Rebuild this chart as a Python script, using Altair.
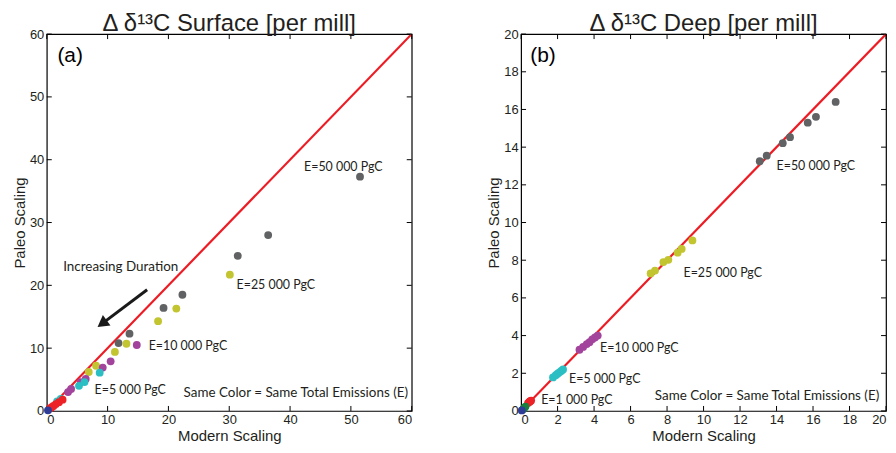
import altair as alt
import pandas as pd

# ---------------- Data: panel (a) surface ----------------
groups = ["50000", "25000", "10000", "5000", "1000", "500", "100"]
group_colors = ["#616264", "#c2c430", "#a3449c", "#2bbfc4", "#ec2227", "#17803e", "#2d3d96"]

surf_x = {
    "50000": [51.5, 36.4, 31.4, 22.3, 19.2, 13.6, 11.8],
    "25000": [30.1, 21.3, 18.3, 13.1, 11.2, 8.1, 6.9],
    "10000": [14.8, 10.5, 9.2, 6.4, 5.6, 4.0, 3.5],
    "5000": [8.7, 6.2, 5.3, 2.3, 1.7],
    "1000": [0.5, 0.8, 1.1, 1.5, 2.0, 2.6],
    "100": [0.2],
}
surf_y = {
    "50000": [37.3, 28.0, 24.7, 18.5, 16.4, 12.3, 10.8],
    "25000": [21.7, 16.3, 14.3, 10.7, 9.4, 7.2, 6.2],
    "10000": [10.5, 7.9, 6.9, 5.1, 4.6, 3.5, 3.0],
    "5000": [6.1, 4.6, 4.0, 1.9, 1.5],
    "1000": [0.4, 0.6, 0.8, 1.1, 1.4, 1.8],
    "100": [0.1],
}

# ---------------- Data: panel (b) deep ----------------
deep_x = {
    "50000": [13.08, 13.46, 14.34, 14.74, 15.71, 16.16, 17.24],
    "25000": [7.1, 7.34, 7.8, 8.07, 8.58, 8.8, 9.39],
    "10000": [3.2, 3.4, 3.6, 3.75, 3.9, 4.05, 4.2],
    "5000": [1.75, 1.9, 2.0, 2.1, 2.2, 2.3],
    "1000": [0.38, 0.45, 0.5, 0.55],
    "500": [0.12, 0.18, 0.24],
    "100": [0.04],
}
deep_y = {
    "50000": [13.25, 13.55, 14.21, 14.53, 15.30, 15.61, 16.40],
    "25000": [7.3, 7.45, 7.9, 8.02, 8.4, 8.6, 9.05],
    "10000": [3.25, 3.4, 3.55, 3.65, 3.8, 3.9, 4.0],
    "5000": [1.78, 1.9, 1.98, 2.05, 2.12, 2.2],
    "1000": [0.42, 0.48, 0.52, 0.55],
    "500": [0.1, 0.17, 0.23],
    "100": [0.03],
}

surf_ticks = [0, 10, 20, 30, 40, 50, 60]
deep_ticks = [0, 2, 4, 6, 8, 10, 12, 14, 16, 18, 20]

surf_labels = ["E=50 000 PgC", "E=25 000 PgC", "E=10 000 PgC", "E=5 000 PgC"]
surf_label_x = [42.3, 31.2, 16.75, 7.85]
surf_label_y = [38.8, 20.0, 10.4, 3.3]

deep_labels = ["E=50 000 PgC", "E=25 000 PgC", "E=10 000 PgC", "E=5 000 PgC", "E=1 000 PgC"]
deep_label_x = [14.0, 8.9, 4.33, 2.63, 1.1]
deep_label_y = [13.0, 7.33, 3.32, 1.67, 0.6]

note = "Same Color = Same Total Emissions (E)"
surf_note_xy = [59.4, 2.85]
deep_note_xy = [19.63, 0.79]

duration_text = "Increasing Duration"
duration_xy = [2.7, 22.9]
arrow_start = [16.5, 19.3]
arrow_end = [9.1, 13.9]

W, H = 367, 379
RED = "#ed1c24"
LABEL_FONT = "Liberation Sans"
ANN_FONT = "Lato"


def points_df(xd, yd):
    rows = []
    for g in groups:
        if g in xd:
            for a, b in zip(xd[g], yd[g]):
                rows.append({"x": a, "y": b, "g": g})
    return pd.DataFrame(rows)


def panel(xd, yd, dmax, ticks, title, tag, tag_xy, labels, lx, ly, note_xy, arrow=False):
    xs = alt.Scale(domain=[0, dmax], nice=False, zero=False)
    ys = alt.Scale(domain=[0, dmax], nice=False, zero=False)
    xax = alt.Axis(values=ticks, title="Modern Scaling", format="d")
    yax = alt.Axis(values=ticks, title="Paleo Scaling", format="d")
    X = lambda: alt.X("x:Q", scale=xs, axis=xax)
    Y = lambda: alt.Y("y:Q", scale=ys, axis=yax)

    line_df = pd.DataFrame({"x": [0, dmax], "y": [0, dmax]})
    line = alt.Chart(line_df).mark_line(color=RED, strokeWidth=2.2, clip=True).encode(x=X(), y=Y())

    pts = alt.Chart(points_df(xd, yd)).mark_circle(size=62, opacity=1).encode(
        x=X(), y=Y(),
        color=alt.Color("g:N", scale=alt.Scale(domain=groups, range=group_colors), legend=None),
    )

    tx = pd.DataFrame({"x": ticks})
    ty = pd.DataFrame({"y": ticks})
    tick_b = alt.Chart(tx).mark_rule(color="black", strokeWidth=1).encode(x=X(), y=alt.value(H), y2=alt.value(H - 5))
    tick_t = alt.Chart(tx).mark_rule(color="black", strokeWidth=1).encode(x=X(), y=alt.value(0), y2=alt.value(5))
    tick_l = alt.Chart(ty).mark_rule(color="black", strokeWidth=1).encode(y=Y(), x=alt.value(0), x2=alt.value(5))
    tick_r = alt.Chart(ty).mark_rule(color="black", strokeWidth=1).encode(y=Y(), x=alt.value(W - 5), x2=alt.value(W))

    ann_df = pd.DataFrame({"x": lx, "y": ly, "t": labels})
    ann = alt.Chart(ann_df).mark_text(align="left", baseline="middle", font=ANN_FONT, fontSize=12.5, color="#231f20").encode(
        x=X(), y=Y(), text="t:N")

    note_df = pd.DataFrame({"x": [note_xy[0]], "y": [note_xy[1]], "t": [note]})
    note_t = alt.Chart(note_df).mark_text(align="right", baseline="middle", font=ANN_FONT, fontSize=13.5, color="#231f20").encode(
        x=X(), y=Y(), text="t:N")

    tag_df = pd.DataFrame({"x": [tag_xy[0]], "y": [tag_xy[1]], "t": [tag]})
    tag_t = alt.Chart(tag_df).mark_text(align="left", baseline="middle", font=LABEL_FONT, fontSize=21, color="black").encode(
        x=X(), y=Y(), text="t:N")

    layers = [line, tick_b, tick_t, tick_l, tick_r, pts, ann, note_t, tag_t]

    if arrow:
        ddf = pd.DataFrame({"x": [duration_xy[0]], "y": [duration_xy[1]], "t": [duration_text]})
        dur = alt.Chart(ddf).mark_text(align="left", baseline="middle", font=ANN_FONT, fontSize=13.5, color="#231f20").encode(
            x=X(), y=Y(), text="t:N")
        adf = pd.DataFrame({"x": [arrow_start[0]], "y": [arrow_start[1]], "x2": [arrow_end[0]], "y2": [arrow_end[1]]})
        shaft = alt.Chart(adf).mark_rule(color="#1a1a1a", strokeWidth=3).encode(
            x=X(), y=Y(), x2="x2:Q", y2="y2:Q")
        hdf = pd.DataFrame({"x": [arrow_end[0]], "y": [arrow_end[1]]})
        head = alt.Chart(hdf).mark_point(shape="triangle-up", filled=True, color="#1a1a1a", size=170, angle=234, opacity=1).encode(
            x=X(), y=Y())
        layers += [dur, shaft, head]

    return alt.layer(*layers).properties(
        width=W, height=H,
        title=alt.TitleParams(title, fontSize=24, font=LABEL_FONT, fontWeight="normal", anchor="middle", offset=-8, color="#231f20"),
    )


left = panel(surf_x, surf_y, 60, surf_ticks, "Δ δ¹³C Surface [per mill]", "(a)", [1.75, 56.5],
             surf_labels, surf_label_x, surf_label_y, surf_note_xy, arrow=True)
right = panel(deep_x, deep_y, 20, deep_ticks, "Δ δ¹³C Deep [per mill]", "(b)", [0.5, 18.85],
              deep_labels, deep_label_x, deep_label_y, deep_note_xy)

chart = alt.hconcat(left, right, spacing=72).properties(
    padding={"left": 3, "top": 2, "right": 0, "bottom": 0},
    background="white",
).configure_view(
    stroke="black", strokeWidth=1.2
).configure_axis(
    domain=False, ticks=False, grid=False,
    labelFont=LABEL_FONT, labelFontSize=13, labelColor="#231f20", labelPadding=3,
    titleFont=LABEL_FONT, titleFontSize=15, titleFontWeight="normal", titleColor="#231f20",
    titlePadding=2,
)

chart.save("out.html", embed_options={"renderer": "svg", "actions": False})
